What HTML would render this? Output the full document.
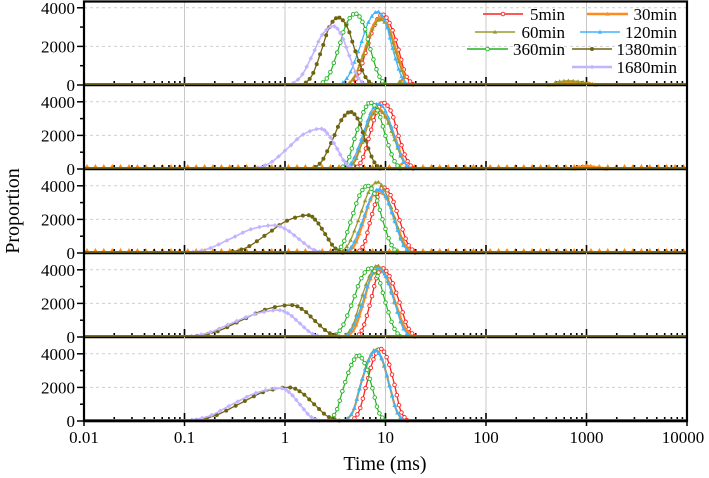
<!DOCTYPE html>
<html><head><meta charset="utf-8"><style>
html,body{margin:0;padding:0;background:#fff;}
svg{display:block;font-family:"Liberation Serif",serif;}
</style></head><body>
<svg id="chart" width="709" height="478" viewBox="0 0 709 478"></svg>
<script>
// ---- data (x in log10(ms), y proportion) ----
const seriesNames = ["5min","30min","60min","120min","360min","1380min","1680min"];
const xTickLabels = ["0.01","0.1","1","10","100","1000","10000"];
const yTickLabels = ["0","2000","4000"];
const panelMax = [4300,5000,5000,5000,5000];

const p1_5_t=[.65,.73,.81,.89,.97,1.05,1.13,1.20,1.28], p1_5_v=[0,530,1830,3100,3650,3100,1830,530,0];
const p1_30_t=[.62,.70,.79,.87,.95,1.03,1.11,1.19,1.27,2.6,2.75,2.85,3.0,3.1], p1_30_v=[0,510,1750,2990,3500,2990,1750,510,0,0,120,150,100,0];
const p1_60_t=[.62,.70,.79,.87,.95,1.03,1.10,1.18,1.25,2.55,2.7,2.82,2.95,3.1], p1_60_v=[0,500,1700,2900,3400,2900,1700,500,0,0,150,220,150,0];
const p1_120_t=[.55,.64,.74,.83,.92,1.0,1.07,1.15,1.22], p1_120_v=[0,550,1900,3250,3800,3250,1900,550,0];
const p1_360_t=[.35,.44,.53,.61,.70,.78,.85,.93,1.0], p1_360_v=[0,540,1850,3160,3700,3160,1850,540,0];
const p1_1380_t=[.18,.27,.36,.44,.53,.62,.70,.79,.87], p1_1380_v=[0,510,1750,2990,3500,2990,1750,510,0];
const p1_1680_t=[.05,.16,.27,.37,.48,.56,.64,.72,.80], p1_1680_v=[0,450,1520,2600,3050,2600,1520,450,0];

const p2_5_t=[.70,.77,.84,.91,.98,1.06,1.13,1.21,1.28], p2_5_v=[0,575,1970,3365,3940,3365,1970,575,0];
const p2_30_t=[.62,.70,.77,.85,.92,1.01,1.10,1.18,1.27,2.8,2.9,3.0,3.1,3.2], p2_30_v=[0,525,1800,3075,3600,3075,1800,525,0,0,100,180,100,0];
const p2_60_t=[.62,.70,.78,.85,.93,1.01,1.09,1.17,1.25], p2_60_v=[0,510,1750,2990,3500,2990,1750,510,0];
const p2_120_t=[.60,.68,.77,.85,.93,1.01,1.09,1.17,1.25], p2_120_v=[0,570,1950,3330,3900,3330,1950,570,0];
const p2_360_t=[.55,.63,.70,.78,.85,.93,1.0,1.08,1.15], p2_360_v=[0,575,1975,3375,3950,3375,1975,575,0];
const p2_1380_t=[.28,.37,.47,.56,.65,.73,.80,.88,.95], p2_1380_v=[0,495,1700,2905,3400,2905,1700,495,0];
const p2_1680_t=[-.32,-.15,.02,.18,.35,.43,.52,.60,.68], p2_1680_v=[0,350,1200,2050,2400,2050,1200,350,0];

const p3_5_t=[.72,.79,.85,.92,.98,1.06,1.14,1.22,1.30], p3_5_v=[0,570,1950,3330,3900,3330,1950,570,0];
const p3_30_t=[.62,.70,.78,.85,.93,1.02,1.10,1.19,1.27], p3_30_v=[0,540,1850,3160,3700,3160,1850,540,0];
const p3_60_t=[.55,.64,.74,.83,.92,1.0,1.09,1.17,1.25], p3_60_v=[0,620,2115,3610,4230,3610,2115,620,0];
const p3_120_t=[.60,.68,.77,.85,.93,1.01,1.09,1.17,1.25], p3_120_v=[0,555,1900,3245,3800,3245,1900,555,0];
const p3_360_t=[.50,.58,.66,.74,.82,.90,.97,1.05,1.12], p3_360_v=[0,585,2000,3415,4000,3415,2000,585,0];
const p3_1380_t=[-.58,-.38,-.18,.02,.22,.31,.40,.49,.58], p3_1380_v=[0,330,1125,1920,2250,1920,1125,330,0];
const p3_1680_t=[-.98,-.77,-.55,-.34,-.12,.01,.14,.27,.40], p3_1680_v=[0,240,825,1410,1650,1410,825,240,0];

const p4_5_t=[.72,.78,.85,.91,.97,1.05,1.14,1.22,1.30], p4_5_v=[0,600,2050,3500,4100,3500,2050,600,0];
const p4_30_t=[.62,.70,.78,.85,.93,1.02,1.10,1.19,1.27], p4_30_v=[0,590,2025,3460,4050,3460,2025,590,0];
const p4_60_t=[.58,.67,.75,.84,.92,1.0,1.09,1.17,1.25], p4_60_v=[0,620,2125,3630,4250,3630,2125,620,0];
const p4_120_t=[.60,.68,.77,.85,.93,1.01,1.09,1.17,1.25], p4_120_v=[0,600,2050,3500,4100,3500,2050,600,0];
const p4_360_t=[.48,.57,.67,.76,.85,.93,1.0,1.08,1.15], p4_360_v=[0,600,2050,3500,4100,3500,2050,600,0];
const p4_1380_t=[-.95,-.70,-.45,-.20,.05,.18,.30,.43,.55], p4_1380_v=[0,280,950,1620,1900,1620,950,280,0];
const p4_1680_t=[-1.0,-.77,-.54,-.30,-.07,.04,.15,.26,.37], p4_1680_v=[0,235,800,1365,1600,1365,800,235,0];

const p5_5_t=[.67,.74,.81,.88,.95,1.02,1.09,1.15,1.22], p5_5_v=[0,630,2150,3670,4300,3670,2150,630,0];
const p5_30_t=[.60,.68,.75,.83,.90,.97,1.04,1.11,1.18], p5_30_v=[0,615,2100,3585,4200,3585,2100,615,0];
const p5_60_t=[.60,.68,.75,.83,.90,.97,1.04,1.11,1.18], p5_60_v=[0,620,2125,3630,4250,3630,2125,620,0];
const p5_120_t=[.60,.68,.75,.83,.90,.97,1.04,1.11,1.18], p5_120_v=[0,615,2100,3585,4200,3585,2100,615,0];
const p5_360_t=[.43,.51,.58,.66,.73,.80,.87,.93,1.0], p5_360_v=[0,570,1950,3330,3900,3330,1950,570,0];
const p5_1380_t=[-.95,-.71,-.46,-.22,.03,.16,.29,.42,.55], p5_1380_v=[0,290,1000,1710,2000,1710,1000,290,0];
const p5_1680_t=[-1.0,-.76,-.53,-.29,-.05,.05,.15,.25,.35], p5_1680_v=[0,285,975,1665,1950,1665,975,285,0];

const panelData = [
 [[p1_5_t,p1_5_v],[p1_30_t,p1_30_v],[p1_60_t,p1_60_v],[p1_120_t,p1_120_v],[p1_360_t,p1_360_v],[p1_1380_t,p1_1380_v],[p1_1680_t,p1_1680_v]],
 [[p2_5_t,p2_5_v],[p2_30_t,p2_30_v],[p2_60_t,p2_60_v],[p2_120_t,p2_120_v],[p2_360_t,p2_360_v],[p2_1380_t,p2_1380_v],[p2_1680_t,p2_1680_v]],
 [[p3_5_t,p3_5_v],[p3_30_t,p3_30_v],[p3_60_t,p3_60_v],[p3_120_t,p3_120_v],[p3_360_t,p3_360_v],[p3_1380_t,p3_1380_v],[p3_1680_t,p3_1680_v]],
 [[p4_5_t,p4_5_v],[p4_30_t,p4_30_v],[p4_60_t,p4_60_v],[p4_120_t,p4_120_v],[p4_360_t,p4_360_v],[p4_1380_t,p4_1380_v],[p4_1680_t,p4_1680_v]],
 [[p5_5_t,p5_5_v],[p5_30_t,p5_30_v],[p5_60_t,p5_60_v],[p5_120_t,p5_120_v],[p5_360_t,p5_360_v],[p5_1380_t,p5_1380_v],[p5_1680_t,p5_1680_v]]
];

// ---- layout/style ----
const colors=["#ff2020","#ff8c1a","#9c9a2e","#40b4ff","#22b422","#6f6410","#c2b4ff"];
const widths=[1.3,2.2,1.3,1.3,1.2,1.3,1.6];
const L=84,R=687;
const tops=[2,85,169,253,337], bots=[85,169,253,337,421];
const X=lg=>L+(lg+2)*(R-L)/6;
const NS="http://www.w3.org/2000/svg";
const svg=document.getElementById('chart');
function mk(tag,attrs,parent){const e=document.createElementNS(NS,tag);for(const k in attrs)e.setAttribute(k,attrs[k]);(parent||svg).appendChild(e);return e;}

function spline(t,v){ // catmull-rom samples
  const out=[];
  for(let i=0;i<t.length-1;i++){
    if(t[i+1]-t[i]>0.5){out.push(null);continue;}
    const p0=[t[Math.max(i-1,0)],v[Math.max(i-1,0)]],p1=[t[i],v[i]],p2=[t[i+1],v[i+1]],p3=[t[Math.min(i+2,t.length-1)],v[Math.min(i+2,t.length-1)]];
    for(let s=0;s<8;s++){const u=s/8,u2=u*u,u3=u2*u;
      const f=(a,b,c,d)=>0.5*(2*b+(-a+c)*u+(2*a-5*b+4*c-d)*u2+(-a+3*b-3*c+d)*u3);
      out.push([f(p0[0],p1[0],p2[0],p3[0]),Math.max(0,f(p0[1],p1[1],p2[1],p3[1]))]);}
  }
  out.push([t[t.length-1],v[v.length-1]]);
  return out;
}
function marker(k,x,y,g){
  const c=colors[k];
  if(k===0||k===4) mk('circle',{cx:x,cy:y,r:1.8,fill:'#fff',stroke:c,'stroke-width':0.9},g);
  else if(k===1||k===3||k===2) mk('path',{d:`M${x},${y-2.3}L${x+2.2},${y+1.6}L${x-2.2},${y+1.6}Z`,fill:c},g);
  else if(k===5) mk('circle',{cx:x,cy:y,r:2,fill:c},g);
  else mk('path',{d:`M${x},${y-2.3}L${x+2.3},${y}L${x},${y+2.3}L${x-2.3},${y}Z`,fill:c},g);
}

// gridlines & panels
for(let p=0;p<5;p++){
  const top=tops[p],bot=bots[p],max=panelMax[p];
  const Y=v=>bot-v*(bot-top)/max;
  const pg=mk('g',{});
  
  
  for(let d=1;d<6;d++){const x=X(d-2);mk('line',{x1:x,x2:x,y1:top,y2:bot,stroke:'#c8c8c8','stroke-width':1},pg);}
  [2000,4000].forEach(v=>mk('line',{x1:L,x2:R,y1:Y(v),y2:Y(v),stroke:'#cfcfcf','stroke-width':1,'stroke-dasharray':'3,3'},pg));
  // orange triangles along zero in panels 2,3
  if(p===1||p===2){for(let x=L+3;x<R;x+=8.4)mk('path',{d:`M${x},${bot-5}L${x+2.4},${bot-1}L${x-2.4},${bot-1}Z`,fill:'#ff8c1a'},pg);}
  // minor/major x ticks (inside)
  for(let d=-2;d<4;d++){for(let m=1;m<10;m++){const x=X(d+Math.log10(m));mk('line',{x1:x,x2:x,y1:bot,y2:bot-(m===1?8:4),stroke:'#000','stroke-width':1.6},pg);}}
  // series
  panelData[p].forEach((s,k)=>{
    const g=mk('g',{},pg);
    
    
    const pts=spline(s[0],s[1]);
    let d='',pen=false;
    pts.forEach(q=>{if(!q){pen=false;return;}d+=(pen?'L':'M')+X(q[0]).toFixed(1)+','+Y(q[1]).toFixed(1);pen=true;});
    mk('path',{d,fill:'none',stroke:colors[k],'stroke-width':widths[k]},g);
    pts.forEach((q,i)=>{if(q&&i%3===0&&q[1]>0)marker(k,X(q[0]),Y(q[1]),g);});
  });
  // zero line
  mk('line',{x1:L,x2:R,y1:bot-1,y2:bot-1,stroke:'#7a7214','stroke-width':2},pg);
  mk('line',{x1:L,x2:R,y1:bot+0.5,y2:bot+0.5,stroke:'#000','stroke-width':1.5},pg);
  // y ticks & labels
  [0,2000,4000].forEach((v,i)=>{
    mk('line',{x1:L-7,x2:L,y1:Y(v),y2:Y(v),stroke:'#000','stroke-width':1.5},pg);
    const t=mk('text',{x:L-9,y:Y(v)+6,'text-anchor':'end','font-size':17,fill:'#000'},pg);
    t.textContent=yTickLabels[i];
    
    
  });
  [1000,3000].forEach(v=>mk('line',{x1:L-4,x2:L,y1:Y(v),y2:Y(v),stroke:'#000','stroke-width':1.5},pg));
}
// frame
mk('rect',{x:L,y:1.5,width:R-L,height:421-1.5,fill:'none',stroke:'#000','stroke-width':2.2});
// x labels
xTickLabels.forEach((lab,i)=>{
  const t=mk('text',{x:X(i-2)+(i===6?-4:0),y:443,'text-anchor':'middle','font-size':17,fill:'#000'});
  t.textContent=lab;
  
  
  mk('line',{x1:X(i-2),x2:X(i-2),y1:421,y2:426,stroke:'#000','stroke-width':1.5});
});
const xt=mk('text',{x:385,y:470,'text-anchor':'middle','font-size':20,fill:'#000'});
xt.textContent='Time (ms)';


const yt=mk('text',{x:0,y:0,'text-anchor':'middle','font-size':20,fill:'#000',transform:'translate(19,211) rotate(-90)'});
yt.textContent='Proportion';



// legend
const legPos=[[483,523,14],[587,628,14],[475,515,32],[580,620,32],[467,508,49],[572,612,49],[572,612,67]];
const legText=[565,677,565,677,565,677,677];
seriesNames.forEach((n,k)=>{
  const [x1,x2,y]=legPos[k];
  const g=mk('g',{});
  
  
  mk('line',{x1,x2,y1:y,y2:y,stroke:colors[k],'stroke-width':k===1||k===6?2.4:1.6},g);
  marker(k,(x1+x2)/2,y,g);
  const t=mk('text',{x:legText[k],y:y+6,'text-anchor':'end','font-size':17,fill:'#000'},g);
  t.textContent=n;
});
</script>
</body></html>
